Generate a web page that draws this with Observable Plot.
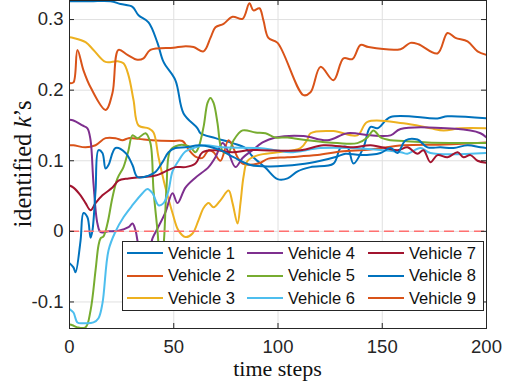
<!DOCTYPE html>
<html>
<head>
<meta charset="utf-8">
<script src="https://cdn.jsdelivr.net/npm/d3@7"></script>
<script src="https://cdn.jsdelivr.net/npm/@observablehq/plot@0.6"></script>
<style>
  html, body { margin: 0; padding: 0; background: #fff; }
  #wrap { position: relative; width: 508px; height: 381px; overflow: hidden; }
  #legend { position: absolute; left: 122px; top: 241px; width: 362px; height: 70px;
            box-sizing: border-box; border: 1px solid #262626; background: #fff; }
  .entry { position: absolute; height: 20px; display: flex; align-items: center;
           font-family: "Liberation Sans", Arial, sans-serif; font-size: 16.5px; color: #111; white-space: nowrap; }
  .entry svg { margin-right: 5px; }
</style>
</head>
<body>
<div id="wrap">
  <div id="chart"></div>
  <div id="legend"></div>
</div>
<script>
// ---------------- data ----------------
const names = ["Vehicle 1","Vehicle 2","Vehicle 3","Vehicle 4","Vehicle 5","Vehicle 6","Vehicle 7","Vehicle 8","Vehicle 9"];
const xTicks = [0, 50, 100, 150, 200];
const yTicks = [-0.1, 0, 0.1, 0.2, 0.3];
const xLabel = "time steps";

const v1t = [0,10.1,19.7,24.5,30.2,33.1,37.9,42.2,45.1,50.8,54.7,61.4,62.8,70.0,78.2,84.4,87.8,94.0,99.8,104.6,109.4,115.6,126.6,130.0,133.3,136.2,141.0,144.4,147.7,154.0,176.5,181.3,200];
const v1k = [0.326,0.326,0.326,0.322,0.318,0.306,0.296,0.267,0.240,0.214,0.167,0.146,0.139,0.132,0.125,0.118,0.106,0.090,0.074,0.075,0.085,0.091,0.096,0.118,0.119,0.096,0.119,0.148,0.146,0.162,0.160,0.163,0.160];

const v2t = [0,1.9,7.7,12.5,17.3,22.1,25.4,28.3,33.1,39.8,49.4,54.2,57.1,60.4,63.8,66.7,69.1,72.4,76.3,80.6,83.0,90.6,95.4,104.6,118.9,130.0,144.4,160.2,180,200];
const v2k = [0.122,0.122,0.119,0.122,0.132,0.132,0.129,0.132,0.131,0.129,0.128,0.128,0.116,0.106,0.104,0.115,0.112,0.100,0.129,0.105,0.096,0.096,0.103,0.105,0.108,0.113,0.116,0.122,0.123,0.126];

const v3t = [0,1.9,7.7,11.5,17.3,23.0,25.9,28.3,30.7,33.1,37.9,40.3,42.7,46.0,49.4,52.3,55.6,59.0,61.9,64.3,66.7,69.1,72.4,76.3,78.2,80.6,82.0,83.5,85.4,90.6,99.8,110.8,114.1,115.6,126.6,138.1,142.9,160.2,173.1,179.4,187.5,200];
const v3k = [0.275,0.274,0.268,0.257,0.240,0.241,0.238,0.221,0.186,0.150,0.146,0.140,0.105,0.062,0.026,0.001,-0.008,-0.003,0.016,0.033,0.040,0.034,0.044,0.058,0.040,0.011,0.040,0.078,0.100,0.108,0.112,0.118,0.130,0.139,0.142,0.136,0.155,0.153,0.146,0.143,0.146,0.146];

const v4t = [0,1.9,6.2,8.6,10.1,11.5,13.4,14.9,18.7,23.5,28.3,30.2,31.7,33.1,35.5,37.9,39.8,42.2,46.0,49.4,51.8,55.6,60.4,66.7,70.0,73.4,75.8,79.6,83.0,87.8,92.6,98.8,112.2,123.7,133.3,144.4,154.0,158.8,192.3,197.1,200];
const v4k = [0.158,0.157,0.150,0.146,0.129,0.068,0.011,-0.001,0.000,0.001,0.006,0.011,0.001,-0.020,-0.035,-0.030,-0.010,0.004,0.027,0.054,0.040,0.062,0.076,0.091,0.105,0.125,0.115,0.091,0.104,0.115,0.126,0.133,0.135,0.129,0.139,0.136,0.136,0.145,0.143,0.139,0.133];

const v5t = [0,1.4,3.8,7.7,10.1,12.5,13.9,14.9,16.3,18.2,20.6,23.0,25.9,28.3,30.2,32.6,36.5,38.8,40.3,42.2,43.6,45.1,46.5,48.4,52.3,55.6,58.0,60.4,61.9,64.3,66.2,67.6,69.1,71.0,72.4,73.9,76.3,78.7,83.0,89.2,94.0,98.8,104.6,114.1,128.5,138.1,142.9,145.8,149.2,154.0,160.2,171.7,200];
const v5k = [-0.132,-0.133,-0.136,-0.136,-0.112,-0.055,-0.020,-0.010,-0.007,0.011,0.048,0.075,0.091,0.115,0.136,0.132,0.139,0.125,0.058,0.001,-0.045,-0.020,0.060,0.115,0.122,0.122,0.119,0.112,0.119,0.148,0.182,0.189,0.182,0.153,0.122,0.112,0.112,0.129,0.143,0.140,0.139,0.133,0.133,0.129,0.125,0.125,0.133,0.143,0.133,0.129,0.128,0.126,0.125];

const v6t = [0,1.9,3.8,6.7,11.5,13.9,15.8,18.7,22.1,25.9,30.2,35.0,37.4,39.8,42.7,45.1,47.5,49.4,52.3,55.6,60.4,65.2,73.4,90.6,98.8,106.0,120.4,134.8,158.8,162.1,168.3,173.1,200];
const v6k = [-0.110,-0.115,-0.129,-0.130,-0.129,-0.123,-0.102,-0.027,0.000,0.020,0.037,0.054,0.060,0.054,0.037,0.040,0.058,0.085,0.100,0.113,0.119,0.122,0.119,0.118,0.115,0.112,0.118,0.118,0.112,0.110,0.118,0.111,0.111];

const v7t = [0,1.9,5.3,7.7,10.1,12.5,15.8,20.6,23.5,28.3,35.0,41.2,47.5,50.8,55.6,60.4,63.8,70.0,78.2,85.9,92.6,110.8,121.8,136.2,144.4,157.3,162.1,166.9,169.8,173.1,176.5,181.3,186.1,189.0,192.3,195.7,200];
const v7k = [0.065,0.062,0.051,0.040,0.030,0.040,0.051,0.062,0.072,0.075,0.077,0.079,0.087,0.091,0.091,0.096,0.112,0.115,0.112,0.115,0.115,0.115,0.122,0.119,0.122,0.115,0.119,0.110,0.115,0.098,0.108,0.105,0.112,0.105,0.108,0.100,0.097];

const v8t = [0,1.9,2.9,5.3,6.7,8.6,10.1,11.0,12.5,13.9,15.8,17.3,18.7,22.1,26.9,30.2,32.6,37.9,41.2,44.6,47.5,50.8,55.6,62.8,72.4,78.7,86.8,96.4,110.8,120.4,128.5,132.4,139.6,149.2,154.0,157.3,161.2,166.9,171.7,177.9,184.2,190.9,197.1,200];
const v8k = [-0.045,-0.051,-0.058,-0.013,0.026,0.020,-0.009,0.001,0.058,0.115,0.111,0.089,0.094,0.118,0.111,0.094,0.077,0.079,0.084,0.098,0.112,0.118,0.119,0.122,0.115,0.105,0.094,0.092,0.095,0.100,0.106,0.110,0.108,0.111,0.118,0.111,0.129,0.130,0.119,0.119,0.118,0.122,0.119,0.118];

const v9t = [0,1.9,3.8,6.7,10.1,17.3,20.6,23.5,27.8,32.6,35.5,38.8,49.9,54.7,59.5,64.3,67.6,70.0,73.9,78.2,83.0,86.3,88.2,91.1,93.0,95.4,99.8,112.2,115.6,120.4,126.6,131.4,135.7,139.6,143.4,158.8,163.5,167.4,176.5,181.3,185.1,190.9,195.7,200];
const v9k = [0.210,0.211,0.257,0.228,0.204,0.172,0.196,0.257,0.250,0.243,0.245,0.257,0.260,0.262,0.261,0.255,0.274,0.289,0.294,0.304,0.301,0.323,0.313,0.316,0.299,0.274,0.267,0.193,0.197,0.233,0.214,0.245,0.244,0.264,0.261,0.258,0.267,0.265,0.252,0.281,0.274,0.269,0.255,0.250];

// ---------------- styles ----------------
const seriesColors = ["#0072BD","#D95319","#EDB120","#7E2F8E","#77AC30","#4DBEEE","#A2142F","#0072BD","#D95319"];
const ts = [v1t,v2t,v3t,v4t,v5t,v6t,v7t,v8t,v9t];
const ks = [v1k,v2k,v3k,v4k,v5k,v6k,v7k,v8k,v9k];
const series = names.map((name, i) => ts[i].map((t, j) => ({name, t, k: ks[i][j]})));

const W = 508, H = 381, ML = 69, MR = 22, MT = 0, MB = 53;
const innerW = W - ML - MR, innerH = H - MT - MB, tickLen = 5;
const axisColor = "#262626", gridColor = "#e0e0e0";

const chart = Plot.plot({
  width: W, height: H,
  marginLeft: ML, marginRight: MR, marginTop: MT, marginBottom: MB,
  style: {fontFamily: "'Liberation Sans', Arial, sans-serif", fontSize: "18.5px", color: axisColor, background: "#fff", overflow: "visible"},
  x: {domain: [0, 200]},
  y: {domain: [-0.1376, 0.327]},
  marks: [
    Plot.gridX(xTicks, {stroke: gridColor, strokeOpacity: 1, strokeWidth: 1}),
    Plot.gridY(yTicks, {stroke: gridColor, strokeOpacity: 1, strokeWidth: 1}),
    Plot.axisX(xTicks, {tickSize: 0, tickPadding: 11, label: null, tickFormat: d => String(d)}),
    Plot.axisY(yTicks, {tickSize: 0, tickPadding: 6, label: null, tickFormat: d => String(d)}),
    ...series.map((s, i) => Plot.line(s, {x: "t", y: "k", stroke: seriesColors[i], strokeWidth: 2, curve: "catmull-rom", clip: true})),
    Plot.ruleY([0], {stroke: "#ff7070", strokeWidth: 1.5, strokeDasharray: "10,5"}),
    Plot.tickY(yTicks, {y: d => d, stroke: axisColor, insetRight: innerW - tickLen}),
    Plot.tickY(yTicks, {y: d => d, stroke: axisColor, insetLeft: innerW - tickLen}),
    Plot.tickX(xTicks, {x: d => d, stroke: axisColor, insetTop: innerH - tickLen}),
    Plot.tickX(xTicks, {x: d => d, stroke: axisColor, insetBottom: innerH - tickLen}),
    Plot.frame({stroke: axisColor, strokeWidth: 1})
  ]
});
document.getElementById("chart").appendChild(chart);

// axis titles (serif, LaTeX-like)
const svg = d3.select(chart);
svg.append("text")
  .attr("x", ML + innerW / 2).attr("y", 375.5)
  .attr("text-anchor", "middle")
  .style("font-family", "'Liberation Serif', 'DejaVu Serif', serif")
  .style("font-size", "22px").attr("fill", "#111")
  .text(xLabel);
const yl = svg.append("text")
  .attr("transform", `translate(31,${MT + innerH / 2}) rotate(-90)`)
  .attr("text-anchor", "middle")
  .style("font-family", "'Liberation Serif', 'DejaVu Serif', serif")
  .style("font-size", "24.5px").attr("fill", "#111");
yl.append("tspan").text("identified ");
yl.append("tspan").style("font-style", "italic").text("k");
yl.append("tspan").text("\u2019s");

// legend (3 columns, column-major like MATLAB)
const legend = document.getElementById("legend");
const colX = [4, 124, 245], rowY = [11, 33.5, 56];
names.forEach((name, i) => {
  const col = Math.floor(i / 3), row = i % 3;
  const e = document.createElement("div");
  e.className = "entry";
  e.style.left = colX[col] + "px";
  e.style.top = (rowY[row] - 10) + "px";
  e.innerHTML = `<svg width="36" height="6"><line x1="0" y1="3" x2="36" y2="3" stroke="${seriesColors[i]}" stroke-width="2"/></svg><span>${name}</span>`;
  legend.appendChild(e);
});
</script>
</body>
</html>
